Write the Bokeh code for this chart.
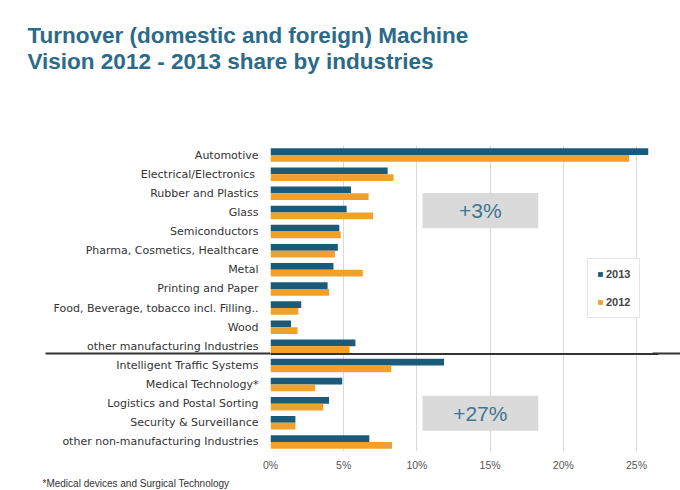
from bokeh.plotting import figure
from bokeh.models import (ColumnDataSource, Range1d, FixedTicker, BoxAnnotation,
                          Label, Span, LinearAxis, Title)
from bokeh.embed import file_html
from bokeh.resources import INLINE

categories = [
    "Automotive", "Electrical/Electronics ", "Rubber and Plastics", "Glass",
    "Semiconductors", "Pharma, Cosmetics, Healthcare", "Metal",
    "Printing and Paper", "Food, Beverage, tobacco incl. Filling..", "Wood",
    "other manufacturing Industries", "Intelligent Traffic Systems",
    "Medical Technology*", "Logistics and Postal Sorting",
    "Security & Surveillance", "other non-manufacturing Industries",
]
share_2013 = [25.8, 8.0, 5.5, 5.2, 4.7, 4.6, 4.3, 3.9, 2.1, 1.4, 5.8,
              11.85, 4.9, 4.0, 1.7, 6.75]
share_2012 = [24.5, 8.4, 6.7, 7.0, 4.8, 4.4, 6.3, 4.0, 1.9, 1.85, 5.4,
              8.25, 3.05, 3.6, 1.7, 8.3]
x_ticks = [0, 5, 10, 15, 20, 25]
x_tick_labels = ["0%", "5%", "10%", "15%", "20%", "25%"]
series_names = ["2013", "2012"]
title_lines = ["Turnover (domestic and foreign) Machine",
               "Vision 2012 - 2013 share by industries"]
group_labels = ["+3%", "+27%"]
footnote = "*Medical devices and Surgical Technology"

C13 = "#1b5b7a"
C12 = "#f0a12b"
TEAL = "#2b6a88"
FONT = "Liberation Sans"
CATFONT = "DejaVu Sans"

n = len(categories)
idx = list(range(n))
bh = 0.35
src = ColumnDataSource(dict(
    y13=[i - bh / 2 for i in idx],
    y12=[i + bh / 2 for i in idx],
    v13=share_2013,
    v12=share_2012,
))

p = figure(width=680, height=490, output_backend="svg", toolbar_location=None,
           x_range=Range1d(0, 26.5), y_range=Range1d(n - 0.5, -0.5),
           min_border_left=270, min_border_right=22,
           min_border_top=145, min_border_bottom=39)
p.outline_line_color = None
p.background_fill_color = "white"
p.border_fill_color = "white"

p.hbar(y="y13", right="v13", left=0, height=bh, source=src,
       fill_color=C13, line_color=None, legend_label=series_names[0])
p.hbar(y="y12", right="v12", left=0, height=bh, source=src,
       fill_color=C12, line_color=None, legend_label=series_names[1])

# x axis
p.xaxis.ticker = FixedTicker(ticks=x_ticks)
p.xaxis.major_label_overrides = {t: l for t, l in zip(x_ticks, x_tick_labels)}
p.xaxis.axis_line_color = None
p.xaxis.major_tick_line_color = None
p.xaxis.major_tick_out = 0
p.xaxis.minor_tick_line_color = None
p.xaxis.minor_tick_out = 0
p.xaxis.major_label_standoff = 7
p.xaxis.major_label_text_font = FONT
p.xaxis.major_label_text_font_size = "10.5px"
p.xaxis.major_label_text_color = "#555555"

# y axis (category labels) + long minor tick = left part of separator line
sep_y = 10.4
sep_left = 225
p.yaxis.ticker = FixedTicker(ticks=idx, minor_ticks=[sep_y])
p.yaxis.major_label_overrides = {i: c for i, c in zip(idx, categories)}
p.yaxis.axis_line_color = None
p.yaxis.major_tick_line_color = None
p.yaxis.major_tick_out = 0
p.yaxis.major_tick_in = 0
p.yaxis.minor_tick_in = 0
p.yaxis.minor_tick_out = sep_left
p.yaxis.minor_tick_line_color = "#333333"
p.yaxis.minor_tick_line_width = 2
p.yaxis.major_label_standoff = 12 - sep_left
p.yaxis.major_label_text_font = CATFONT
p.yaxis.major_label_text_font_size = "11px"
p.yaxis.major_label_text_color = "#333333"

# right stub of separator line
ra = LinearAxis(ticker=FixedTicker(ticks=[], minor_ticks=[sep_y]),
                axis_line_color=None, major_tick_line_color=None,
                major_tick_out=0, minor_tick_in=6, minor_tick_out=22,
                minor_tick_line_color="#333333", minor_tick_line_width=2,
                major_label_standoff=-22)
p.add_layout(ra, "right")
p.add_layout(Span(location=sep_y, dimension="width", line_color="#333333",
                  line_width=2))

p.xgrid.ticker = FixedTicker(ticks=x_ticks)
p.xgrid.grid_line_color = "#d9d9d9"
p.ygrid.visible = False

# legend
lg = p.legend[0]
lg.location = (317, 133)
lg.border_line_color = "#cccccc"
lg.background_fill_alpha = 1
lg.label_text_font = FONT
lg.label_text_font_size = "11px"
lg.label_text_font_style = "bold"
lg.label_text_color = "#444444"
lg.glyph_width = 6
lg.glyph_height = 6
lg.label_height = 12
lg.label_standoff = 3
lg.spacing = 16
lg.padding = 9
lg.margin = 0

# group boxes
for (top, bottom), txt in zip([(1.99, 3.83), (12.58, 14.42)], group_labels):
    p.add_layout(BoxAnnotation(left=10.38, right=18.29, top=top, bottom=bottom,
                               fill_color="#dadada", fill_alpha=1,
                               line_color=None))
    p.add_layout(Label(x=14.33, y=(top + bottom) / 2, text=txt,
                       text_align="center", text_baseline="middle",
                       text_font=FONT, text_font_size="21px",
                       text_color="#3f7593"))

# title: invisible spacer next to the frame, then the two lines
p.add_layout(Title(text=" ", text_font_size="1px", standoff=69), "above")
p.add_layout(Title(text=title_lines[1], align="left", offset=-243, standoff=0,
                   text_font=FONT, text_font_size="22.5px",
                   text_font_style="bold", text_color=TEAL), "above")
p.add_layout(Title(text=title_lines[0], align="left", offset=-243, standoff=-2,
                   text_font=FONT, text_font_size="22.5px",
                   text_font_style="bold", text_color=TEAL), "above")

# footnote
p.add_layout(Title(text=footnote, align="left", offset=-228, standoff=4,
                   text_font=FONT, text_font_size="10px",
                   text_font_style="normal", text_color="#333333"), "below")

open("out.html", "w").write(file_html(p, INLINE))
